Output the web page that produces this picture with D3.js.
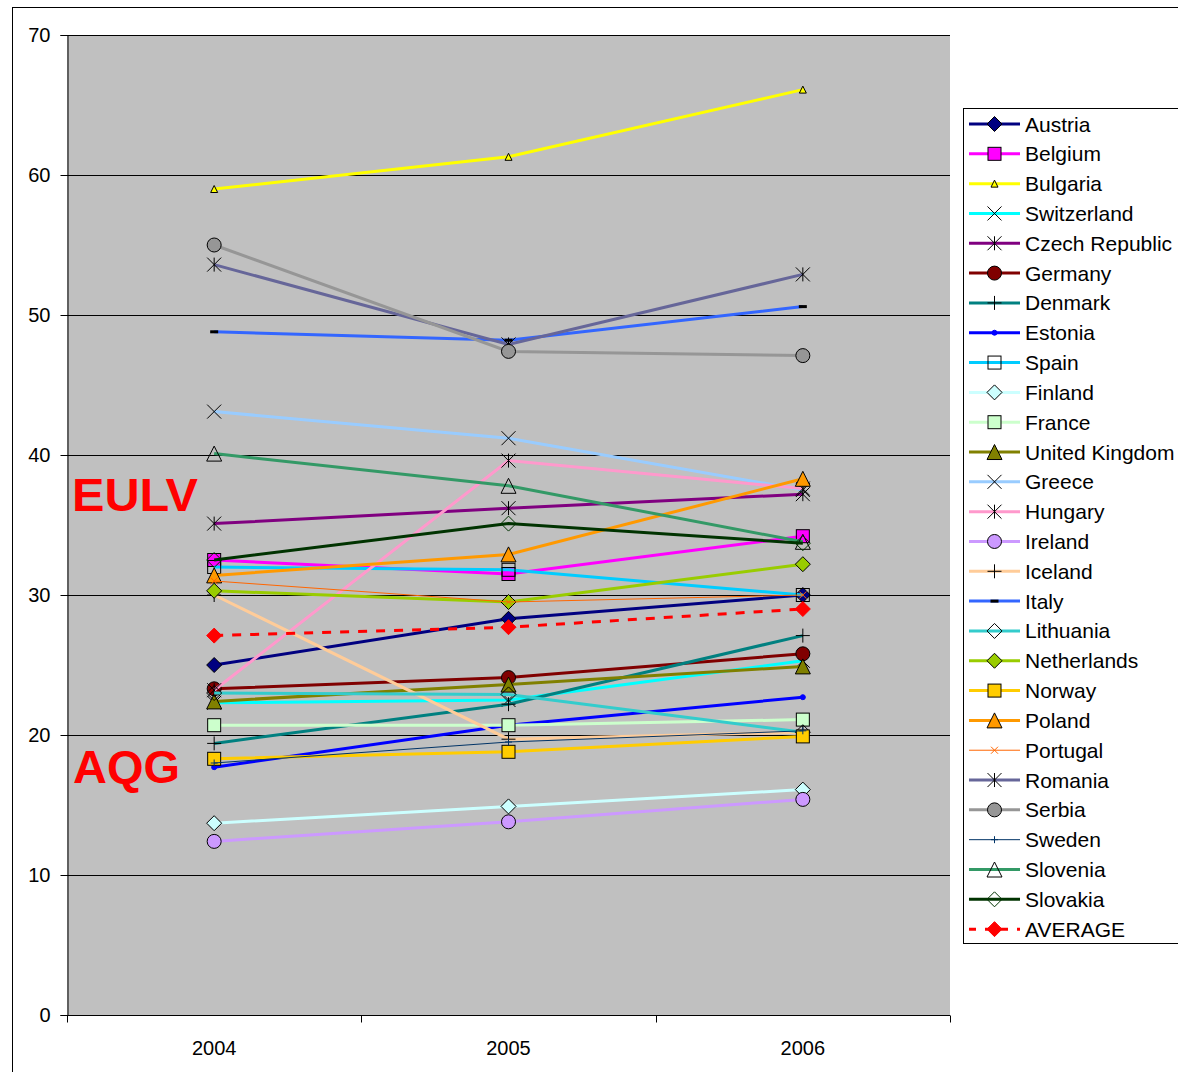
<!DOCTYPE html>
<html>
<head>
<meta charset="utf-8">
<script src="https://cdn.jsdelivr.net/npm/d3@7"></script>
<style>
  html, body { margin: 0; padding: 0; background: #fff; }
  svg { display: block; font-family: "Liberation Sans", Arial, sans-serif; }
</style>
</head>
<body>
<svg id="chart" width="1178" height="1072"></svg>
<script>
// Years on the category axis
const years = ["2004", "2005", "2006"];
const yTicks = [0, 10, 20, 30, 40, 50, 60, 70];

// One array per country, values for 2004, 2005, 2006
const austria      = [25.0, 28.3, 30.0];
const belgium      = [32.5, 31.5, 34.2];
const bulgaria     = [59.0, 61.3, 66.1];
const switzerland  = [22.3, 22.5, 25.3];
const czech        = [35.1, 36.2, 37.2];
const germany      = [23.3, 24.1, 25.8];
const denmark      = [19.4, 22.2, 27.1];
const estonia      = [17.7, 20.7, 22.7];
const spain        = [32.0, 31.8, 30.0];
const finland      = [13.7, 14.9, 16.1];
const france       = [20.7, 20.7, 21.1];
const unitedKingdom= [22.4, 23.6, 24.9];
const greece       = [43.1, 41.2, 37.5];
const hungary      = [23.2, 39.6, 37.6];
const ireland      = [12.4, 13.8, 15.4];
const iceland      = [30.0, 19.7, 20.2];
const italy        = [48.8, 48.2, 50.6];
const lithuania    = [23.0, 22.9, 20.2];
const netherlands  = [30.3, 29.5, 32.2];
const norway       = [18.3, 18.8, 19.9];
const poland       = [31.4, 32.9, 38.3];
const portugal     = [31.0, 29.5, 30.0];
const romania      = [53.6, 47.9, 52.9];
const serbia       = [55.0, 47.4, 47.1];
const sweden       = [18.0, 19.5, 20.3];
const slovenia     = [40.1, 37.8, 33.8];
const slovakia     = [32.5, 35.1, 33.7];
const average      = [27.1, 27.7, 29.0];

// Series table: name, values, line colour, width, marker type, marker fill, marker size
const series = [
  {name: "Austria",        v: austria,       c: "#000080", w: 3, m: "diamond",  f: "#000080", s: 15},
  {name: "Belgium",        v: belgium,       c: "#FF00FF", w: 3, m: "square",   f: "#FF00FF", s: 13},
  {name: "Bulgaria",       v: bulgaria,      c: "#FFFF00", w: 3, m: "triangle", f: "#FFFF00", s: 7},
  {name: "Switzerland",    v: switzerland,   c: "#00FFFF", w: 3, m: "x",        f: "none",    s: 14},
  {name: "Czech Republic", v: czech,         c: "#800080", w: 3, m: "star",     f: "none",    s: 14},
  {name: "Germany",        v: germany,       c: "#800000", w: 3, m: "circle",   f: "#800000", s: 14},
  {name: "Denmark",        v: denmark,       c: "#008080", w: 3, m: "plus",     f: "none",    s: 14},
  {name: "Estonia",        v: estonia,       c: "#0000FF", w: 3, m: "circle",   f: "#0000FF", s: 5},
  {name: "Spain",          v: spain,         c: "#00CCFF", w: 3, m: "square",   f: "none",    s: 13},
  {name: "Finland",        v: finland,       c: "#CCFFFF", w: 3, m: "diamond",  f: "#CCFFFF", s: 15},
  {name: "France",         v: france,        c: "#CCFFCC", w: 3, m: "square",   f: "#CCFFCC", s: 13},
  {name: "United Kingdom", v: unitedKingdom, c: "#808000", w: 3, m: "triangle", f: "#808000", s: 15},
  {name: "Greece",         v: greece,        c: "#99CCFF", w: 3, m: "x",        f: "none",    s: 14},
  {name: "Hungary",        v: hungary,       c: "#FF99CC", w: 3, m: "star",     f: "none",    s: 14},
  {name: "Ireland",        v: ireland,       c: "#CC99FF", w: 3, m: "circle",   f: "#CC99FF", s: 14},
  {name: "Iceland",        v: iceland,       c: "#FFCC99", w: 3, m: "plus",     f: "none",    s: 14},
  {name: "Italy",          v: italy,         c: "#3366FF", w: 3, m: "dash",     f: "none",    s: 8},
  {name: "Lithuania",      v: lithuania,     c: "#33CCCC", w: 3, m: "diamond",  f: "none",    s: 15},
  {name: "Netherlands",    v: netherlands,   c: "#99CC00", w: 3, m: "diamond",  f: "#99CC00", s: 15},
  {name: "Norway",         v: norway,        c: "#FFCC00", w: 3, m: "square",   f: "#FFCC00", s: 13},
  {name: "Poland",         v: poland,        c: "#FF9900", w: 3, m: "triangle", f: "#FF9900", s: 15},
  {name: "Portugal",       v: portugal,      c: "#FF6600", w: 1, m: "xsmall",   f: "none",    s: 7},
  {name: "Romania",        v: romania,       c: "#666699", w: 3, m: "star",     f: "none",    s: 14},
  {name: "Serbia",         v: serbia,        c: "#969696", w: 3, m: "circle",   f: "#969696", s: 14},
  {name: "Sweden",         v: sweden,        c: "#003366", w: 1, m: "plussmall",f: "none",    s: 7},
  {name: "Slovenia",       v: slovenia,      c: "#339966", w: 3, m: "triangle", f: "none",    s: 15},
  {name: "Slovakia",       v: slovakia,      c: "#003300", w: 3, m: "diamond",  f: "none",    s: 15, mc: "#003300"},
  {name: "AVERAGE",        v: average,       c: "#FF0000", w: 3, m: "diamond",  f: "#FF0000", s: 15, dash: "9,9", mc: "#FF0000"}
];

const svg = d3.select("#chart");

// Outer chart frame
svg.append("rect")
  .attr("x", 12.5).attr("y", 7.5)
  .attr("width", 1200).attr("height", 1200)
  .attr("fill", "#fff").attr("stroke", "#000").attr("stroke-width", 1);

const plot = {left: 67, top: 35, right: 950, bottom: 1015};

const x = d3.scaleBand().domain(years).range([plot.left, plot.right]).padding(0);
const y = d3.scaleLinear().domain([0, 70]).range([plot.bottom, plot.top]);

// Plot area background
svg.append("rect")
  .attr("x", plot.left).attr("y", plot.top)
  .attr("width", plot.right - plot.left).attr("height", plot.bottom - plot.top)
  .attr("fill", "#C0C0C0");

// Horizontal gridlines
svg.append("g").selectAll("line")
  .data(yTicks.filter(t => t > 0))
  .join("line")
  .attr("x1", plot.left).attr("x2", plot.right)
  .attr("y1", d => Math.round(y(d)) + 0.5).attr("y2", d => Math.round(y(d)) + 0.5)
  .attr("stroke", "#000").attr("stroke-width", 1);

// Y axis
const yAxis = svg.append("g")
  .attr("transform", `translate(${plot.left + 0.5},0)`)
  .call(d3.axisLeft(y).tickValues(yTicks).tickSize(7).tickPadding(10).tickFormat(d3.format("d")));
yAxis.selectAll("text").attr("font-size", 20).attr("fill", "#000")
  .attr("font-family", "Liberation Sans, Arial, sans-serif");
yAxis.selectAll("line").attr("stroke", "#000");
yAxis.select(".domain").attr("stroke", "#000");

// X axis: ticks at category boundaries, labels centred on categories
const xAxisG = svg.append("g").attr("transform", `translate(0,${plot.bottom + 0.5})`);
xAxisG.append("line")
  .attr("x1", plot.left).attr("x2", plot.right)
  .attr("stroke", "#000");
const boundaries = years.map(d => x(d)).concat([x(years[years.length - 1]) + x.bandwidth()]);
xAxisG.selectAll("line.tick")
  .data(boundaries)
  .join("line").attr("class", "tick")
  .attr("x1", d => Math.round(d) + 0.5).attr("x2", d => Math.round(d) + 0.5)
  .attr("y1", 0).attr("y2", 7)
  .attr("stroke", "#000");
xAxisG.selectAll("text")
  .data(years)
  .join("text")
  .attr("x", d => x(d) + x.bandwidth() / 2)
  .attr("y", 39)
  .attr("text-anchor", "middle")
  .attr("font-size", 20)
  .text(d => d);

// Marker drawing
function drawMarker(g, type, size, fill, stroke) {
  const h = size / 2;
  if (type === "diamond") {
    g.append("path").attr("d", `M0,${-h}L${h},0L0,${h}L${-h},0Z`)
      .attr("fill", fill === "none" ? "none" : fill).attr("stroke", stroke).attr("stroke-width", 1);
  } else if (type === "square") {
    g.append("rect").attr("x", -h).attr("y", -h).attr("width", size).attr("height", size)
      .attr("fill", fill).attr("stroke", stroke).attr("stroke-width", 1);
  } else if (type === "triangle") {
    g.append("path").attr("d", `M0,${-h}L${h},${h}L${-h},${h}Z`)
      .attr("fill", fill).attr("stroke", stroke).attr("stroke-width", 1);
  } else if (type === "circle") {
    g.append("circle").attr("r", h).attr("fill", fill).attr("stroke", stroke).attr("stroke-width", 1);
  } else if (type === "x" || type === "xsmall") {
    g.append("path").attr("d", `M${-h},${-h}L${h},${h}M${h},${-h}L${-h},${h}`)
      .attr("stroke", stroke).attr("stroke-width", 1).attr("fill", "none");
  } else if (type === "star") {
    g.append("path").attr("d", `M${-h},${-h}L${h},${h}M${h},${-h}L${-h},${h}M0,${-h}L0,${h}`)
      .attr("stroke", stroke).attr("stroke-width", 1).attr("fill", "none");
  } else if (type === "plus" || type === "plussmall") {
    g.append("path").attr("d", `M${-h},0L${h},0M0,${-h}L0,${h}`)
      .attr("stroke", stroke).attr("stroke-width", 1).attr("fill", "none");
  } else if (type === "dash") {
    g.append("rect").attr("x", -h).attr("y", -1.5).attr("width", size).attr("height", 3)
      .attr("fill", "#000");
  }
}

function markerStroke(s) {
  if (s.mc) return s.mc;
  if (s.m === "xsmall" || s.m === "plussmall") return s.c;
  if (s.name === "Estonia") return "#0000FF";
  return "#000";
}

const cx = d => x(d) + x.bandwidth() / 2;
const line = d3.line().x((d, i) => cx(years[i])).y(d => y(d));

// Series lines and markers, drawn in table order
const seriesG = svg.append("g");
series.forEach(s => {
  const g = seriesG.append("g");
  g.append("path")
    .attr("d", line(s.v))
    .attr("fill", "none")
    .attr("stroke", s.c)
    .attr("stroke-width", s.w)
    .attr("stroke-dasharray", s.dash || null);
  s.v.forEach((v, i) => {
    const mg = g.append("g").attr("transform", `translate(${cx(years[i])},${y(v)})`);
    drawMarker(mg, s.m, s.s, s.f, markerStroke(s));
  });
});

// Reference level labels
svg.append("text").attr("x", 72).attr("y", y(36.0))
  .attr("font-size", 47).attr("font-weight", "bold").attr("fill", "#FF0000")
  .attr("textLength", 126).attr("lengthAdjust", "spacingAndGlyphs").text("EULV");
svg.append("text").attr("x", 73).attr("y", y(16.6))
  .attr("font-size", 47).attr("font-weight", "bold").attr("fill", "#FF0000")
  .attr("textLength", 107).attr("lengthAdjust", "spacingAndGlyphs").text("AQG");

// Legend
const legend = {x: 963, y: 108, rowH: 29.82};
svg.append("rect")
  .attr("x", legend.x + 0.5).attr("y", legend.y + 0.5)
  .attr("width", 300).attr("height", 835)
  .attr("fill", "#fff").attr("stroke", "#000").attr("stroke-width", 1);

series.forEach((s, i) => {
  const ry = legend.y + 16 + i * legend.rowH;
  const g = svg.append("g").attr("transform", `translate(0,${ry})`);
  g.append("line")
    .attr("x1", 969).attr("x2", 1020)
    .attr("y1", 0).attr("y2", 0)
    .attr("stroke", s.c).attr("stroke-width", s.w)
    .attr("stroke-dasharray", s.dash ? "7,9" : null);
  const mg = g.append("g").attr("transform", "translate(994.5,0)");
  drawMarker(mg, s.m, s.s, s.f, markerStroke(s));
  g.append("text")
    .attr("x", 1025).attr("y", 7.5)
    .attr("font-size", 21).attr("fill", "#000")
    .text(s.name);
});
</script>
</body>
</html>
